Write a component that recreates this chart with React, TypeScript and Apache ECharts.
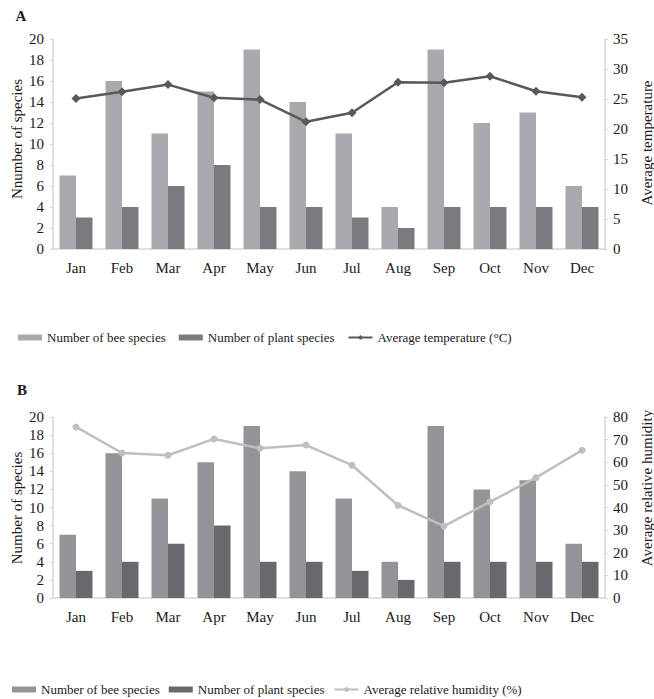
import React, { useEffect, useRef } from "react";
import * as echarts from "echarts";

const months = ["Jan", "Feb", "Mar", "Apr", "May", "Jun", "Jul", "Aug", "Sep", "Oct", "Nov", "Dec"];
const beeSpecies = [7, 16, 11, 15, 19, 14, 11, 4, 19, 12, 13, 6];
const plantSpecies = [3, 4, 6, 8, 4, 4, 3, 2, 4, 4, 4, 4];
const avgTemperature = [25.1, 26.2, 27.4, 25.2, 24.9, 21.2, 22.7, 27.8, 27.7, 28.8, 26.3, 25.3];
const avgHumidity = [75.6, 64.1, 63.1, 70.3, 66.2, 67.6, 58.7, 41.0, 31.8, 42.5, 53.2, 65.3];

const FONT = "Liberation Serif";
const TXT = "#1a1a1a";
const AXIS = "#d6d6d6";

type Cfg = {
  panel: string;
  leftName: string;
  rightName: string;
  rightMax: number;
  rightInterval: number;
  lineName: string;
  lineData: number[];
  beeColor: string;
  plantColor: string;
  lineColor: string;
  symbol: string;
  symbolSize: number;
  gridTop: number;
  gridHeight: number;
  legendTop: number;
  legendLeft: number;
  legendGap: number;
  panelPos: [number, number];
  leftNamePos: [number, number];
  rightNamePos: [number, number];
};

function buildOption(c: Cfg): any {
  return {
    animation: false,
    textStyle: { fontFamily: FONT, color: TXT },
    grid: { left: 53, right: 49, top: c.gridTop, height: c.gridHeight },
    legend: {
      top: c.legendTop,
      left: c.legendLeft,
      itemGap: c.legendGap,
      itemWidth: 24,
      itemHeight: 6,
      textStyle: { fontFamily: FONT, fontSize: 13, color: TXT },
      data: [
        { name: "Number of bee species", icon: "rect" },
        { name: "Number of plant species", icon: "rect" },
        { name: c.lineName },
      ],
    },
    xAxis: {
      type: "category",
      data: months,
      axisTick: { show: false },
      axisLine: { lineStyle: { color: AXIS, width: 1.5 } },
      axisLabel: { fontFamily: FONT, fontSize: 15, color: TXT, margin: 11 },
    },
    yAxis: [
      {
        type: "value",
        min: 0,
        max: 20,
        interval: 2,
        axisLine: { show: true, lineStyle: { color: AXIS, width: 1.5 } },
        axisTick: { show: true, length: 3, lineStyle: { color: AXIS } },
        splitLine: { show: false },
        axisLabel: { fontFamily: FONT, fontSize: 15, color: TXT, margin: 9 },
      },
      {
        type: "value",
        min: 0,
        max: c.rightMax,
        interval: c.rightInterval,
        position: "right",
        axisLine: { show: true, lineStyle: { color: AXIS, width: 1.5 } },
        axisTick: { show: true, length: 3, lineStyle: { color: AXIS } },
        splitLine: { show: false },
        axisLabel: { fontFamily: FONT, fontSize: 15, color: TXT, margin: 8 },
      },
    ],
    series: [
      {
        name: "Number of bee species",
        type: "bar",
        data: beeSpecies,
        barWidth: 16.5,
        barGap: "0%",
        itemStyle: { color: c.beeColor },
      },
      {
        name: "Number of plant species",
        type: "bar",
        data: plantSpecies,
        barWidth: 16.5,
        barGap: "0%",
        itemStyle: { color: c.plantColor },
      },
      {
        name: c.lineName,
        type: "line",
        yAxisIndex: 1,
        data: c.lineData,
        symbol: c.symbol,
        symbolSize: c.symbolSize,
        itemStyle: { color: c.lineColor },
        lineStyle: { color: c.lineColor, width: 2.5 },
      },
    ],
    graphic: [
      {
        type: "text",
        x: c.panelPos[0],
        y: c.panelPos[1],
        style: {
          text: c.panel,
          font: `bold 15px ${FONT}`,
          fill: TXT,
          align: "center",
          verticalAlign: "middle",
        },
      },
      {
        type: "text",
        x: c.leftNamePos[0],
        y: c.leftNamePos[1],
        rotation: Math.PI / 2,
        style: {
          text: c.leftName,
          font: `15px ${FONT}`,
          fill: TXT,
          align: "center",
          verticalAlign: "middle",
        },
      },
      {
        type: "text",
        x: c.rightNamePos[0],
        y: c.rightNamePos[1],
        rotation: Math.PI / 2,
        style: {
          text: c.rightName,
          font: `15px ${FONT}`,
          fill: TXT,
          align: "center",
          verticalAlign: "middle",
        },
      },
    ],
  };
}

const cfgA: Cfg = {
  panel: "A",
  leftName: "Nnumber of species",
  rightName: "Average temperature",
  rightMax: 35,
  rightInterval: 5,
  lineName: "Average temperature (°C)",
  lineData: avgTemperature,
  beeColor: "#a7a9ac",
  plantColor: "#7a7b7f",
  lineColor: "#595959",
  symbol: "diamond",
  symbolSize: 9,
  gridTop: 39,
  gridHeight: 210,
  legendTop: 326,
  legendLeft: 13,
  legendGap: 13,
  panelPos: [21, 16],
  leftNamePos: [17, 139],
  rightNamePos: [647, 143],
};

const cfgB: Cfg = {
  panel: "B",
  leftName: "Number of species",
  rightName: "Average relative humidity",
  rightMax: 80,
  rightInterval: 10,
  lineName: "Average relative humidity (%)",
  lineData: avgHumidity,
  beeColor: "#939498",
  plantColor: "#68696d",
  lineColor: "#bfbfbf",
  symbol: "circle",
  symbolSize: 7,
  gridTop: 52,
  gridHeight: 181,
  legendTop: 313,
  legendLeft: 7,
  legendGap: 9,
  panelPos: [22, 25],
  leftNamePos: [17, 143],
  rightNamePos: [647, 123],
};

function Panel({ cfg, top, height }: { cfg: Cfg; top: number; height: number }) {
  const ref = useRef<HTMLDivElement>(null);
  useEffect(() => {
    if (!ref.current) return;
    const chart = echarts.init(ref.current, undefined, { renderer: "svg" });
    chart.setOption(buildOption(cfg));
    return () => chart.dispose();
  }, [cfg]);
  return (
    <div
      ref={ref}
      style={{ position: "absolute", left: 0, top, width: 654, height }}
    />
  );
}

export default function App() {
  return (
    <div style={{ position: "fixed", left: 0, top: 0, width: 654, height: 699, background: "#fff" }}>
      <Panel cfg={cfgA} top={0} height={365} />
      <Panel cfg={cfgB} top={365} height={334} />
    </div>
  );
}
